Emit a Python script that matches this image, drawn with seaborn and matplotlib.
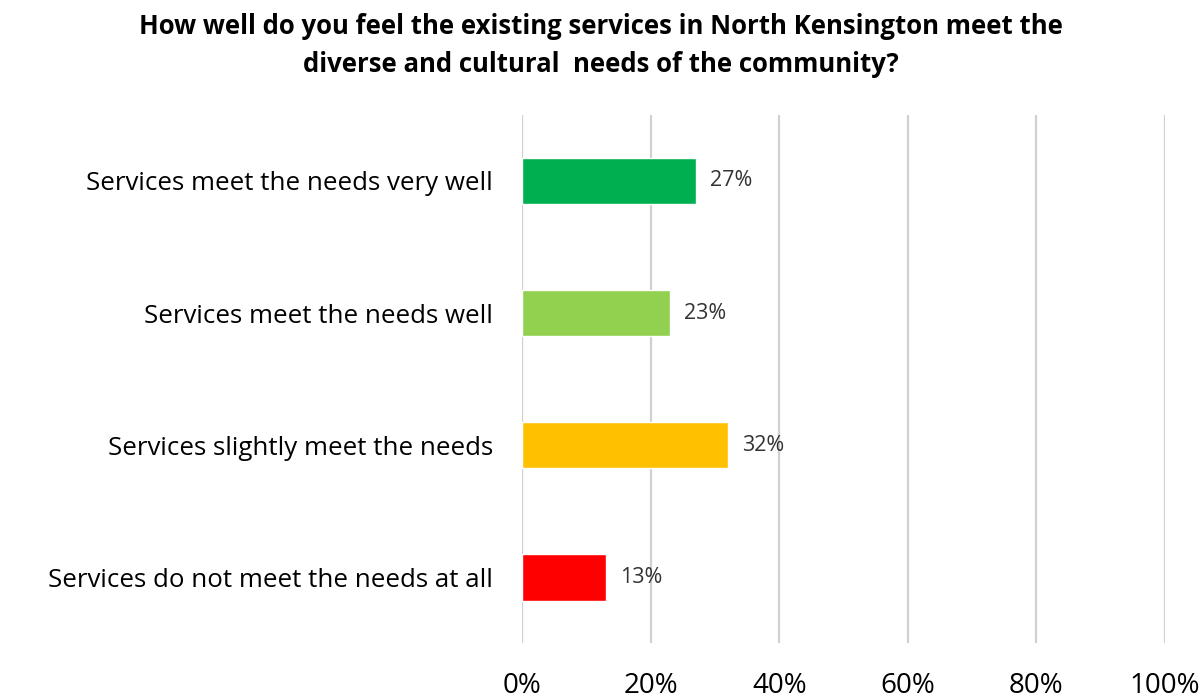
import matplotlib
matplotlib.use("Agg")
import matplotlib.pyplot as plt
import seaborn as sns
import pandas as pd

categories = [
    "Services meet the needs very well",
    "Services meet the needs well",
    "Services slightly meet the needs",
    "Services do not meet the needs at all",
]
values = [27, 23, 32, 13]
colors = ["#00B050", "#92D050", "#FFC000", "#FF0000"]
x_ticks = [0, 20, 40, 60, 80, 100]
title = ("How well do you feel the existing services in North Kensington meet the\n"
         "diverse and cultural  needs of the community?")

sns.set_theme(style="white")
plt.rcParams["font.family"] = ["Open Sans", "DejaVu Sans"]

df = pd.DataFrame({"category": categories, "value": values})

fig = plt.figure(figsize=(12.02, 6.99), dpi=100)
ax = fig.add_axes([0.4343, 0.08, 0.5349, 0.7555])

sns.barplot(data=df, y="category", x="value", hue="category",
            palette=colors, orient="h", width=0.355, legend=False,
            saturation=1, ax=ax)

ax.set_xlim(0, 100)
ax.set_ylim(3.5, -0.5)
ax.set_xticks(x_ticks)
ax.set_xticklabels([f"{t}%" for t in x_ticks], fontsize=20, color="#000000")
ax.tick_params(axis="x", length=0, pad=21)
ax.tick_params(axis="y", length=0, pad=21, labelsize=18.6, labelcolor="#000000")
ax.set_xlabel("")
ax.set_ylabel("")
for s in ax.spines.values():
    s.set_visible(False)
ax.grid(axis="x", color="#D0D0D0", linewidth=1.6)
ax.set_axisbelow(True)

for i, v in enumerate(values):
    ax.text(v + 2.2, i, f"{v}%", va="center", ha="left", fontsize=15.5, color="#333333")

fig.text(0.5, 0.982, title, ha="center", va="top", fontsize=18.5,
         fontweight="bold", linespacing=1.55, color="#000000")

fig.savefig("out.png", dpi=100, facecolor="white")
